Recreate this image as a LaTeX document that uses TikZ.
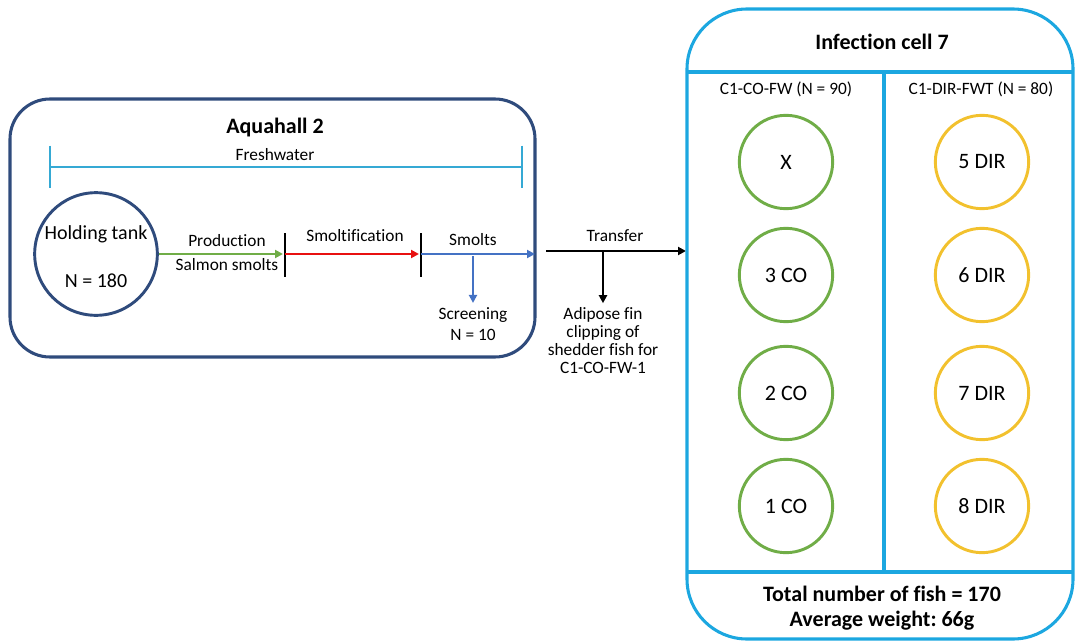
\documentclass[tikz,border=0pt]{standalone}
\usepackage{fontspec}
\setmainfont{Carlito}[Ligatures=NoCommon]
\usetikzlibrary{arrows.meta}
\frenchspacing

\definecolor{hallblue}{HTML}{2F4B7C}
\definecolor{cellblue}{HTML}{1CA7E0}
\definecolor{fwblue}{HTML}{35A9D4}
\definecolor{prodgreen}{HTML}{70AD47}
\definecolor{smoltred}{HTML}{E81010}
\definecolor{smoltblue}{HTML}{4472C4}
\definecolor{dirgold}{HTML}{F2C12E}

\begin{document}
\begin{tikzpicture}[x=0.75pt,y=-0.75pt,
  lbl/.style={font=\fontsize{13}{13.5}\selectfont},
  big/.style={font=\fontsize{16.5}{18}\selectfont},
  head/.style={font=\bfseries\fontsize{16.5}{18}\selectfont},
  tankcirc/.style={circle,draw,line width=2.2pt,minimum size=70pt,inner sep=0pt,big},
  flow/.style={line width=1.9pt,-{Triangle[length=6pt,width=6pt]}},
  tick/.style={line width=1.9pt,black}]
\useasboundingbox (0,0) rectangle (1075,642);

% Aquahall 2
\draw[hallblue,line width=2.3pt,rounded corners=30pt] (10,99) rectangle (535,357);
\node[head] (hall) at (275,128) {Aquahall 2};
\coordinate (fwa) at (50,167);
\coordinate (fwb) at (522,167);
\draw[fwblue,line width=1.3pt] (fwa) -- (fwb)
  ([yshift=16pt]fwa) -- ([yshift=-16pt]fwa)
  ([yshift=16pt]fwb) -- ([yshift=-16pt]fwb);
\node[lbl] (fw) at (275,155) {Freshwater};

\node[circle,draw=hallblue,line width=2.2pt,minimum size=92pt,inner sep=0pt] (tank) at (96,254) {};
\node[font=\fontsize{15}{16}\selectfont] (tankname) at (96,234) {Holding tank};
\node[font=\fontsize{15}{16}\selectfont] (tankn) at (96,281) {N = 180};

\coordinate (t1) at (285,254);
\coordinate (t2) at (421,254);
\coordinate (hallout) at (535,254);
\coordinate (scr) at (473,254);
\draw[tick] ([yshift=-17pt]t1) -- ([yshift=16pt]t1);
\draw[tick] ([yshift=-17pt]t2) -- ([yshift=16pt]t2);
\draw[flow,prodgreen] (tank.east) -- ([xshift=-1.5pt]t1);
\draw[flow,smoltred] (t1) -- ([xshift=-1.5pt]t2);
\draw[flow,smoltblue] (t2) -- (hallout);
\node[lbl] (prod) at (227,241) {Production};
\node[lbl] (salm) at (227,265) {Salmon smolts};
\node[lbl] (smfy) at (355,236) {Smoltification};
\node[lbl] (smolts) at (473,240) {Smolts};
\node[lbl,align=center] (screen) at (473,324) {Screening\\[2pt]N = 10};
\draw[flow,smoltblue,line width=1.5pt] ([yshift=-1.5pt]scr) -- (screen.north);

% transfer
\coordinate (trs) at (546,251);
\coordinate (trt) at (686,251);
\coordinate (clip) at (603,251);
\draw[flow,black] (trs) -- (trt);
\node[lbl] (transfer) at (615,236) {Transfer};
\node[lbl,align=center] (adipose) at (603,341) {Adipose fin\\clipping of\\shedder fish for\\C1-CO-FW-1};
\draw[flow,black,line width=1.5pt] (clip) -- (adipose.north);

% Infection cell 7
\draw[cellblue,line width=2.3pt,rounded corners=45pt] (687,9) rectangle (1073,639);
\draw[cellblue,line width=2.3pt] (687,72) -- (1073,72) (687,572) -- (1073,572) (884,72) -- (884,572);
\node[head] (cell) at (882,42) {Infection cell 7};
\node[lbl] (co) at (786,89) {C1-CO-FW (N = 90)};
\node[lbl] (dir) at (981,89) {C1-DIR-FWT (N = 80)};
\foreach \y/\a/\b [count=\i] in {162/X/5 DIR,275/3 CO/6 DIR,393/2 CO/7 DIR,506/1 CO/8 DIR} {
  \node[tankcirc,draw=prodgreen] (co\i) at (786,\y) {\a};
  \node[tankcirc,draw=dirgold] (dir\i) at (982,\y) {\b};
}
\node[head] (total) at (882,594) {Total number of fish = 170};
\node[head] (weight) at (882,621) {Average weight: 66g};
\end{tikzpicture}
\end{document}
